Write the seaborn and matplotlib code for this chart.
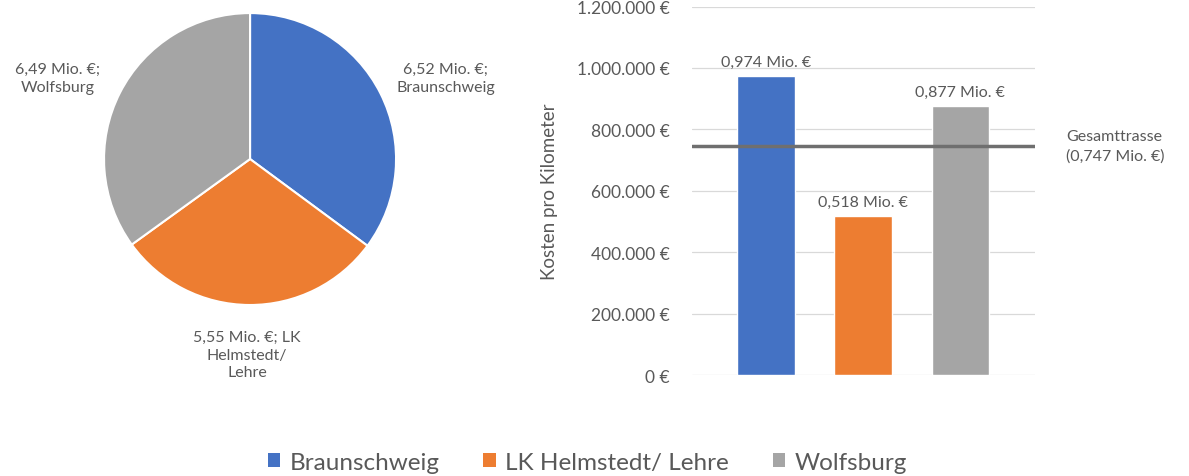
"""
Kostenaufteilung der Trasse: Gesamtkosten je Abschnitt (Kreis) und
Kosten pro Kilometer (Balken) mit Referenzlinie fuer die Gesamttrasse.
"""

import matplotlib.pyplot as plt
import matplotlib.ticker as mticker
import pandas as pd
import seaborn as sns
from matplotlib.patches import Patch

# ── Data ─────────────────────────────────────────────────────────────

regions = ["Braunschweig", "LK Helmstedt/ Lehre", "Wolfsburg"]
pie_labels = [
    "6,52 Mio. €;\nBraunschweig",
    "5,55 Mio. €; LK\nHelmstedt/\nLehre",
    "6,49 Mio. €;\nWolfsburg",
]
total_costs_mio = [6.52, 5.55, 6.49]
cost_per_km = [974000, 518000, 877000]
bar_labels = ["0,974 Mio. €", "0,518 Mio. €", "0,877 Mio. €"]
overall_per_km = 747000
overall_label = "Gesamttrasse\n(0,747 Mio. €)"
y_ticks = [0, 200000, 400000, 600000, 800000, 1000000, 1200000]

colors = ["#4472C4", "#ED7D31", "#A5A5A5"]
TEXT = "#595959"

# ── Theme ────────────────────────────────────────────────────────────

sns.set_theme(style="white")
plt.rcParams["font.family"] = ["Lato", "DejaVu Sans"]
plt.rcParams["text.color"] = TEXT

fig = plt.figure(figsize=(11.89, 4.77), dpi=100)

# ── Pie chart ────────────────────────────────────────────────────────

ax_pie = fig.add_axes([0.0875, 0.3585, 0.2456, 0.612])
ax_pie.pie(
    total_costs_mio, colors=colors, startangle=90, counterclock=False,
    radius=1.0, wedgeprops={"edgecolor": "white", "linewidth": 1.5},
)
ax_pie.set_xlim(-1, 1)
ax_pie.set_ylim(-1, 1)
ax_pie.set_aspect("auto")

label_pos = [(1.34, 0.555), (-0.02, -1.34), (-1.32, 0.555)]
for txt, (lx, ly) in zip(pie_labels, label_pos):
    ax_pie.text(lx, ly, txt, ha="center", va="center", fontsize=11.5,
                color=TEXT, linespacing=1.3, clip_on=False)

# ── Bar chart ────────────────────────────────────────────────────────

ax = fig.add_axes([0.582, 0.2117, 0.2885, 0.7725])
df = pd.DataFrame({"Region": regions, "Kosten": cost_per_km})
sns.barplot(
    data=df, x="Region", y="Kosten", hue="Region", palette=colors,
    width=0.59, saturation=1, legend=False, ax=ax, zorder=2,
)
for cont, lab in zip(ax.containers, bar_labels):
    ax.bar_label(cont, labels=[lab], padding=5, fontsize=11.5, color=TEXT)

ax.axhline(overall_per_km, color="#6f6f6f", lw=2.5, zorder=3)
ax.text(1.09, overall_per_km, overall_label, transform=ax.get_yaxis_transform(),
        ha="left", va="center", fontsize=11.5, color=TEXT, linespacing=1.5)

ax.set_xlim(-0.76, 2.77)
ax.set_ylim(0, 1200000)
ax.set_yticks(y_ticks)
ax.yaxis.set_major_formatter(mticker.FuncFormatter(
    lambda v, _: f"{int(v):,}".replace(",", ".") + " €"))
ax.tick_params(axis="y", length=0, pad=16, labelsize=12.5, labelcolor=TEXT)
ax.set_xticks([])
ax.set_xlabel("")
ax.set_ylabel("Kosten pro Kilometer", fontsize=13.5, color=TEXT)
ax.yaxis.set_label_coords(-0.39, 0.5)
ax.grid(axis="y", color="#d9d9d9", lw=0.9, zorder=0)
ax.grid(axis="x", visible=False)
for side in ax.spines.values():
    side.set_visible(False)

# ── Legend ───────────────────────────────────────────────────────────

handles = [Patch(facecolor=c, edgecolor="none", label=r) for c, r in zip(colors, regions)]
fig.legend(
    handles=handles, loc="center", bbox_to_anchor=(0.494, 0.029), ncol=3,
    frameon=False, fontsize=17.5, handlelength=0.5, handleheight=0.5,
    handletextpad=0.4, columnspacing=1.8, labelcolor=TEXT,
)

fig.savefig("out.png", dpi=100)
plt.close(fig)
